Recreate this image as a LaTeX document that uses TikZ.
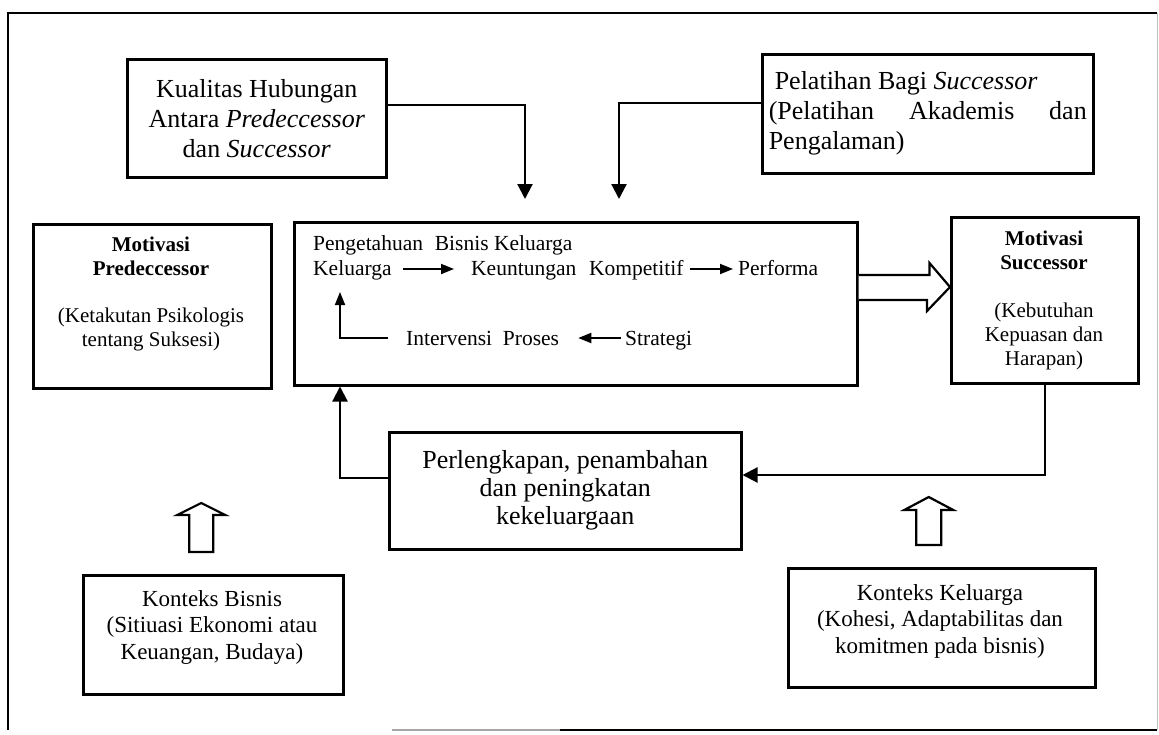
\documentclass[tikz,border=0pt]{standalone}
\usepackage{fontspec}
\setmainfont{Liberation Serif}
\usetikzlibrary{arrows.meta,calc}

\begin{document}
\begin{tikzpicture}[x=1pt,y=-1pt,
  box/.style={draw, line width=2.5pt, inner sep=0pt, anchor=north west},
  bigtext/.style={font=\fontsize{26}{30}\selectfont},
  midtext/.style={font=\fontsize{23}{26.5}\selectfont},
  smalltext/.style={font=\fontsize{21.5}{23.7}\selectfont},
  lbl/.style={inner sep=0pt, anchor=base west, smalltext},
  link/.style={line width=2.2pt, -{Triangle[length=15pt,width=15pt]}},
  flow/.style={line width=1.8pt, -{Triangle[length=13pt,width=10pt]}},
  hollow/.style={draw, line width=2.2pt, fill=white, line join=miter}
]
\useasboundingbox (0,0) rectangle (1159,734);

% outer frame
\draw[line width=1.8pt] (8,730) -- (8,13) -- (1157,13);
\draw[line width=1pt, black!25] (1157,13) -- (1157,730);
\draw[line width=1.5pt, black!35] (392,730) -- (560,730);
\draw[line width=1.8pt] (560,730) -- (1157,730);

% boxes
\node[box, bigtext, align=center, minimum width=259pt, minimum height=118pt] (kual) at (126,58)
  {Kualitas Hubungan\\Antara \textit{Predeccessor}\\dan \textit{Successor}};
\node[box, bigtext, align=left, minimum width=331pt, minimum height=119pt] (pel) at (761,53)
  {\makebox[318pt][l]{\hspace*{6pt}Pelatihan Bagi \textit{Successor}}\\
   \makebox[318pt][s]{(Pelatihan Akademis dan}\\
   Pengalaman)};
\node[box, minimum width=563pt, minimum height=163pt] (cb) at (293,221) {};
\node[box, minimum width=238pt, minimum height=164pt] (mpb) at (32,223) {};
\node[box, minimum width=187pt, minimum height=166pt] (sucb) at (950,216) {};
\node[box, bigtext, align=center, minimum width=352pt, minimum height=117pt,
      font=\fontsize{26}{28}\selectfont] (perl) at (388,431)
  {Perlengkapan, penambahan\\dan peningkatan\\kekeluargaan};
\node[box, minimum width=260pt, minimum height=119pt] (kb) at (82,574) {};
\node[box, minimum width=307pt, minimum height=119pt] (kk) at (787,567) {};

% texts of the side and bottom boxes
\node[inner sep=0pt, align=center, font=\fontsize{21}{23.6}\selectfont] (mpt) at (151,294)
  {\textbf{Motivasi}\\\textbf{Predeccessor}\\[23.6pt](Ketakutan Psikologis\\tentang Suksesi)};
\node[inner sep=0pt, align=center, font=\fontsize{21}{24}\selectfont] (suct) at (1044,300)
  {\textbf{Motivasi}\\\textbf{Successor}\\[24pt](Kebutuhan\\Kepuasan dan\\Harapan)};
\node[inner sep=0pt, align=center, midtext] (kbt) at (212,627)
  {Konteks Bisnis\\(Sitiuasi Ekonomi atau\\Keuangan, Budaya)};
\node[inner sep=0pt, align=center, midtext] (kkt) at (940,621)
  {Konteks Keluarga\\(Kohesi, Adaptabilitas dan\\komitmen pada bisnis)};

% flow inside the central box
\node[lbl] (pbk) at (313,250) {Pengetahuan\hspace{0.55em}Bisnis Keluarga};
\node[lbl] (kel) at (313,275) {Keluarga};
\node[lbl] (keu) at (471,275) {Keuntungan\hspace{0.6em}Kompetitif};
\node[lbl] (perf) at (738,275) {Performa};
\node[lbl] (intv) at (406,345) {Intervensi\hspace{0.5em}Proses};
\node[lbl] (strat) at (625,345) {Strategi};
\coordinate (loopTip) at (340,292);
\coordinate (rowA) at (0,269);
\coordinate (rowB) at (0,338);

\draw[flow] (kel.east |- rowA) ++(11,0) -- ([xshift=-17pt]keu.west |- rowA);
\draw[flow] (keu.east |- rowA) ++(6,0) -- ([xshift=-5pt]perf.west |- rowA);
\draw[flow] (strat.west |- rowB) ++(-4,0) -- ([xshift=19pt]intv.east |- rowB);
\draw[flow] (intv.west |- rowB) ++(-18,0) -| (loopTip);

% connectors between boxes
\coordinate (kualEnd) at ($(cb.north west)+(232,-22)$);
\coordinate (pelEnd) at ($(cb.north west)+(326,-22)$);
\draw[link] ($(kual.north east)+(0,47)$) -| (kualEnd);
\draw[link] ($(pel.north west)+(0,50)$) -| (pelEnd);
\draw[link] ($(sucb.south west)+(95,0)$) |- ($(perl.north east)+(0,44)$);
\draw[link] ($(perl.north west)+(0,47)$) -| ($(cb.south west)+(47,0)$);

% hollow block arrows
\coordinate (tipR) at ($(sucb.north west)+(0,71)$);
\draw[hollow] ($(cb.north east)+(0,54)$) -- ++(71,0) -- ++(0,-12) -- (tipR)
  -- ($(tipR)+(-23,24)$) -- ++(0,-11) -- ($(cb.north east)+(0,79)$);

\coordinate (upA) at ($(kb.north)+(-12,-22)$);
\draw[hollow] ($(upA)+(-12,0)$) -- ++(0,-37) -- ++(-12,0) -- ++(24,-12)
  -- ++(24,12) -- ++(-12,0) -- ++(0,37) -- cycle;

\coordinate (upB) at ($(kk.north)+(-13,-22)$);
\draw[hollow] ($(upB)+(-12.5,0)$) -- ++(0,-35) -- ++(-12,0) -- ++(24.5,-13)
  -- ++(24.5,13) -- ++(-12,0) -- ++(0,35) -- cycle;
\end{tikzpicture}
\end{document}
